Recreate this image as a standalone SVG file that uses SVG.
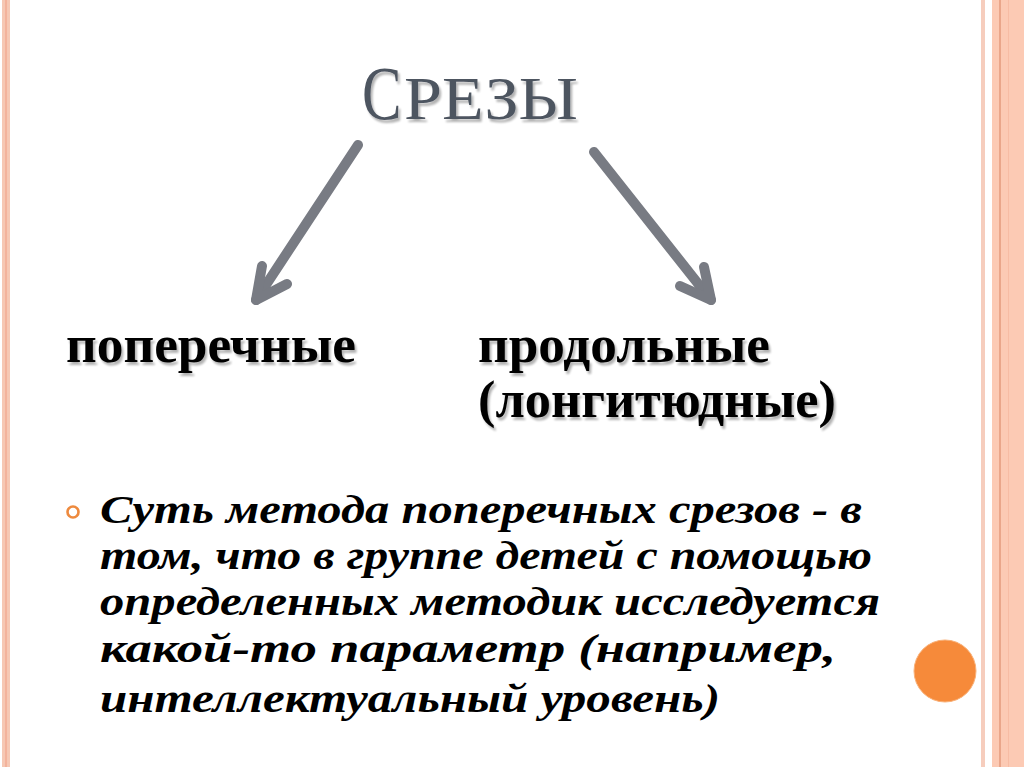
<svg xmlns="http://www.w3.org/2000/svg" width="1024" height="767" viewBox="0 0 1024 767">
<style>
.title{font-family:"Liberation Serif",serif;fill:#4e5561}
.lbl{font-family:"Liberation Serif",serif;font-weight:bold;font-size:53px;fill:#000}
.body{font-family:"Liberation Serif",serif;font-weight:bold;font-style:italic;font-size:40px;fill:#000}
.arrow{fill:none;stroke:#787b83;stroke-width:10;stroke-linecap:round;stroke-linejoin:round}
</style>
<defs>
<filter id="sh" x="-10%" y="-10%" width="130%" height="140%">
<feGaussianBlur in="SourceAlpha" stdDeviation="1.2"/>
<feOffset dx="2" dy="3" result="b"/>
<feComponentTransfer><feFuncA type="linear" slope="0.3"/></feComponentTransfer>
<feMerge><feMergeNode/><feMergeNode in="SourceGraphic"/></feMerge>
</filter>
</defs>
<rect width="1024" height="767" fill="#ffffff"/>
<g id="border">
<rect x="2" y="0" width="8" height="767" fill="#f6c8b4"/>
<rect x="5" y="0" width="2" height="767" fill="#f3b39c"/>
<rect x="981" y="0" width="4" height="767" fill="#f6cdbd"/>
<rect x="992" y="0" width="32" height="767" fill="#fccab4"/>
<rect x="999" y="0" width="2" height="767" fill="#eaa68a"/>
<rect x="1008" y="0" width="1" height="767" fill="#f7bca4"/>
</g>
<g id="title" filter="url(#sh)">
<text class="title" font-size="76" transform="translate(362,119) scale(0.78,1)">С</text>
<text class="title" x="404" y="119" font-size="62" textLength="174" lengthAdjust="spacingAndGlyphs">РЕЗЫ</text>
</g>
<g id="connectors">
<path class="arrow" d="M358,145 L256,300"/>
<path class="arrow" d="M262,266 L256,300 L287,284"/>
<path class="arrow" d="M594,152 L711,300"/>
<path class="arrow" d="M704,267 L711,300 L680,286"/>
</g>
<g id="node-cross" filter="url(#sh)">
<text class="lbl" x="66" y="362" textLength="290" lengthAdjust="spacingAndGlyphs">поперечные</text>
</g>
<g id="node-long" filter="url(#sh)">
<text class="lbl" x="478" y="362" textLength="292" lengthAdjust="spacingAndGlyphs">продольные</text>
<text class="lbl" x="478" y="417" textLength="358" lengthAdjust="spacingAndGlyphs">(лонгитюдные)</text>
</g>
<g id="bullet">
<circle cx="73" cy="512" r="5.5" fill="none" stroke="#ee8a3e" stroke-width="2.6"/>
<text class="body" x="100" y="523" textLength="762" lengthAdjust="spacingAndGlyphs">Суть метода поперечных срезов - в</text>
<text class="body" x="100" y="569" textLength="772" lengthAdjust="spacingAndGlyphs">том, что в группе детей с помощью</text>
<text class="body" x="100" y="615" textLength="780" lengthAdjust="spacingAndGlyphs">определенных методик исследуется</text>
<text class="body" x="100" y="662" textLength="736" lengthAdjust="spacingAndGlyphs">какой-то параметр (например,</text>
<text class="body" x="100" y="712" textLength="620" lengthAdjust="spacingAndGlyphs">интеллектуальный уровень)</text>
</g>
<g id="deco">
<circle cx="945" cy="671" r="31" fill="#f68a3a" stroke="#f9b27a" stroke-width="1"/>
</g>
</svg>
